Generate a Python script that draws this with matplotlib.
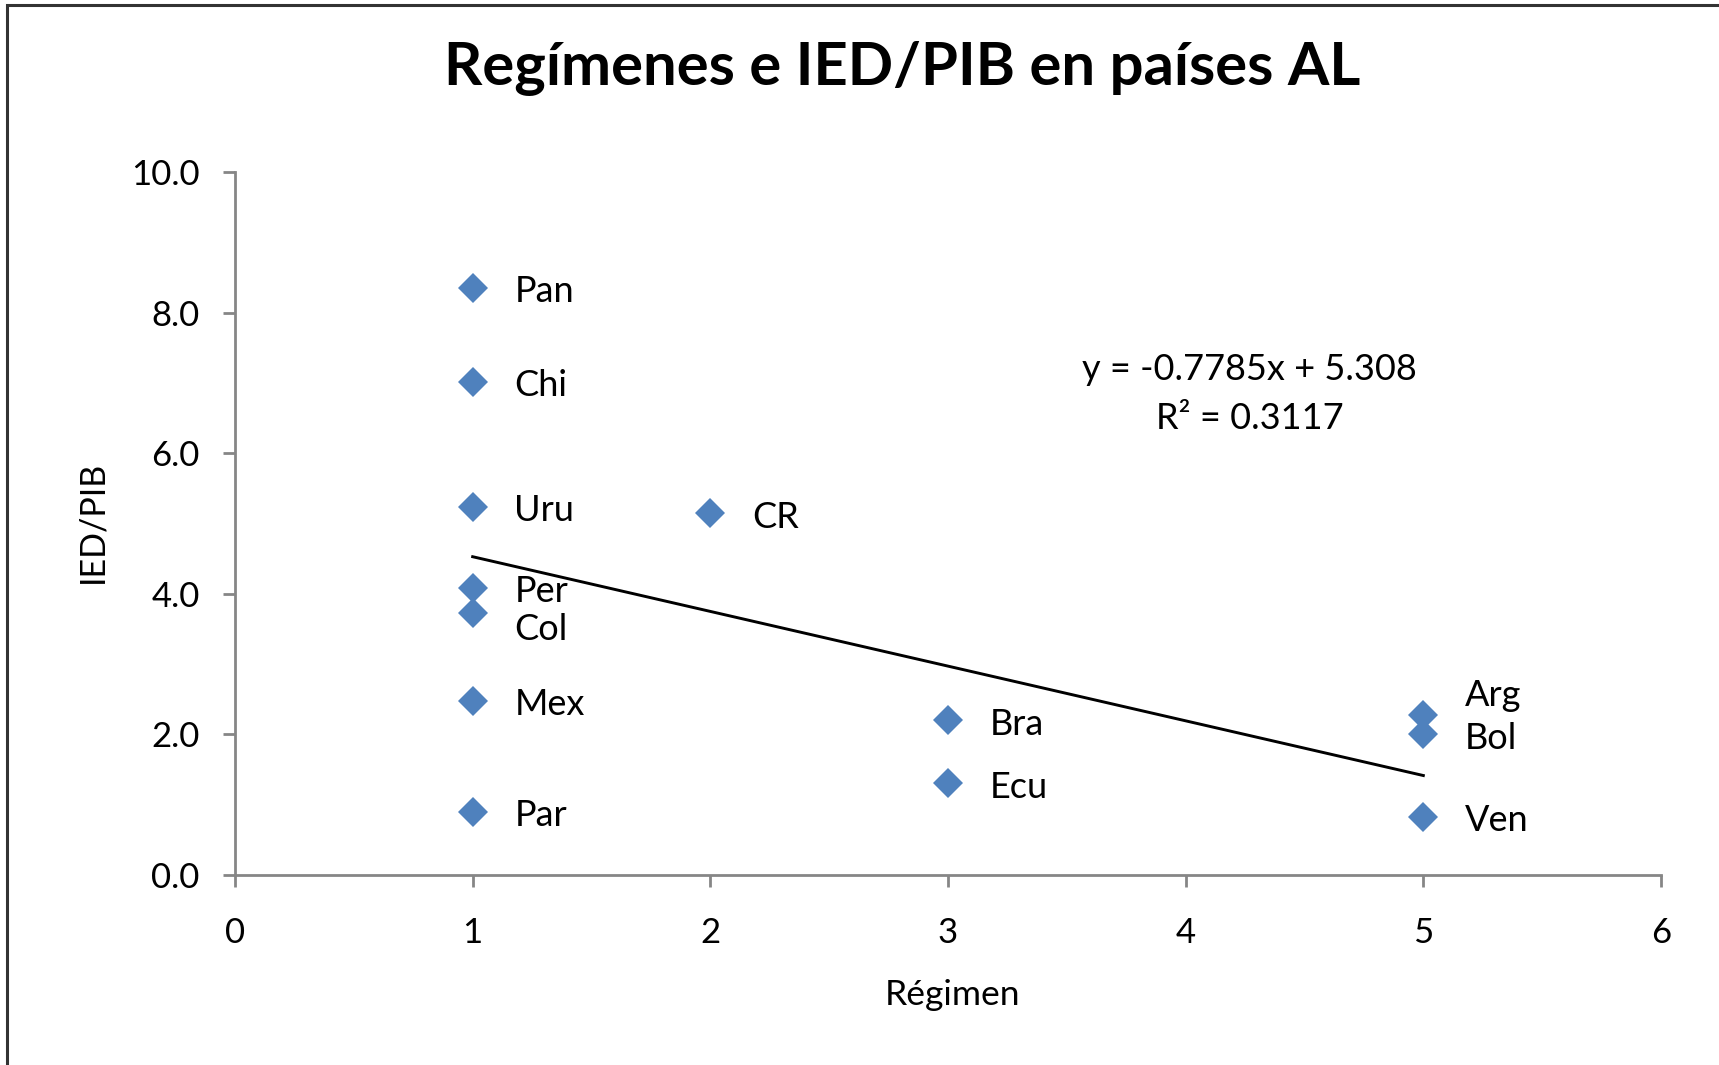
import matplotlib.pyplot as plt
from matplotlib.patches import Rectangle

# datos
paises = ['Pan', 'Chi', 'Uru', 'Per', 'Col', 'Mex', 'Par', 'CR', 'Bra', 'Ecu', 'Arg', 'Bol', 'Ven']
regimen = [1, 1, 1, 1, 1, 1, 1, 2, 3, 3, 5, 5, 5]
ied_pib = [8.36, 7.02, 5.24, 4.09, 3.73, 2.48, 0.90, 5.15, 2.20, 1.31, 2.28, 2.00, 0.83]

# línea de tendencia lineal (según Excel)
pendiente = -0.7785
intercepto = 5.308
r2 = 0.3117

x_ticks = [0, 1, 2, 3, 4, 5, 6]
y_ticks = [0.0, 2.0, 4.0, 6.0, 8.0, 10.0]

# desplazamiento vertical de algunas etiquetas (en puntos) para que no se pisen
ajuste_etiqueta = {'Col': -12, 'Arg': 14}

plt.rcParams['font.family'] = ['Lato', 'DejaVu Sans']

W, H = 1719, 1065
fig = plt.figure(figsize=(W / 100, H / 100), dpi=100)

# marco del área del gráfico (cortado a la derecha y abajo)
fig.add_artist(Rectangle((7 / W, -0.1), 1.2, 1.1 - 5 / H, transform=fig.transFigure,
                         fill=False, edgecolor='#333333', linewidth=2.2))

ax = fig.add_axes([235 / W, 1 - 875 / H, (1661 - 235) / W, (875 - 172.3) / H])

ax.plot(regimen, ied_pib, linestyle='none', marker='D', markersize=15.5,
        color='#4F81BD', markeredgewidth=0, zorder=3)

# línea de tendencia
xs = [min(regimen), max(regimen)]
ys = [pendiente * x + intercepto for x in xs]
ax.plot(xs, ys, color='black', linewidth=2.1, zorder=2)

for pais, x, y in zip(paises, regimen, ied_pib):
    dy = ajuste_etiqueta.get(pais, -3)
    ax.annotate(pais, (x, y), xytext=(30, dy), textcoords='offset points',
                ha='left', va='center', fontsize=26)

ax.text(4.27, 6.85, f'y = {pendiente}x + {intercepto}\nR² = {r2}',
        ha='center', va='center', fontsize=26, linespacing=1.6)

ax.set_xlim(0, 6)
ax.set_ylim(0, 10)
ax.set_xticks(x_ticks)
ax.set_yticks(y_ticks)
ax.set_yticklabels([f'{v:.1f}' for v in y_ticks])

for lado in ['top', 'right']:
    ax.spines[lado].set_visible(False)
for lado in ['left', 'bottom']:
    ax.spines[lado].set_color('#868686')
    ax.spines[lado].set_linewidth(2)

ax.tick_params(axis='both', direction='out', length=8.5, width=2, color='#868686', labelsize=25)
ax.tick_params(axis='y', pad=17)
ax.tick_params(axis='x', pad=22)

fig.text(902 / W, 1 - 69 / H, 'Regímenes e IED/PIB en países AL', ha='center', va='center',
         fontsize=43, fontweight='bold')
fig.text(952 / W, 1 - 995 / H, 'Régimen', ha='center', va='center', fontsize=25.5)
fig.text(92 / W, 1 - 522 / H, 'IED/PIB', ha='center', va='center', rotation=90, fontsize=24.5)

fig.savefig('out.png', dpi=100)
